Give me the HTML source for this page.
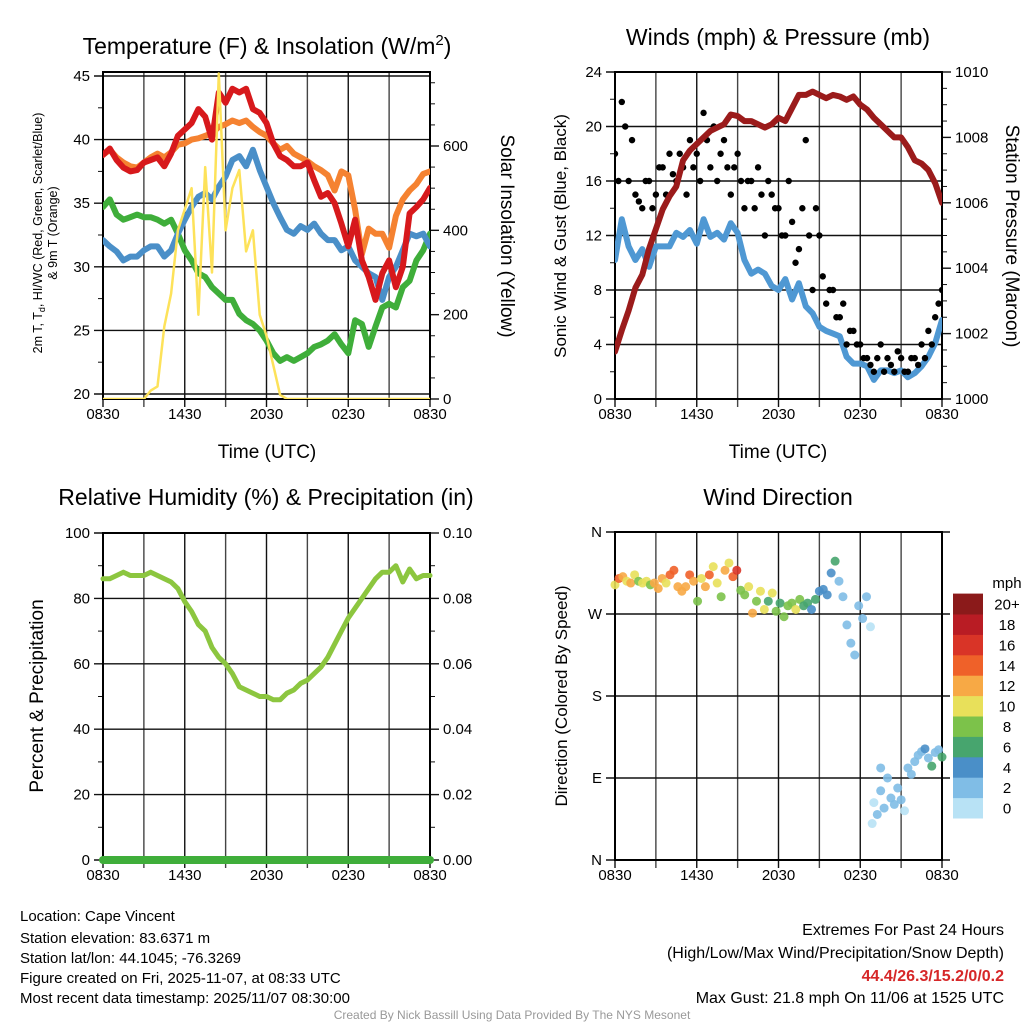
<!DOCTYPE html>
<html><head><meta charset="utf-8">
<style>
body{margin:0;background:#fff;}
svg{display:block;font-family:"Liberation Sans",Arial,sans-serif;}
</style></head>
<body>
<svg id="c" width="1024" height="1024" viewBox="0 0 1024 1024" xmlns="http://www.w3.org/2000/svg">
<rect width="1024" height="1024" fill="#fff"/>
<g id="g1"></g>
<g id="g2"></g>
<g id="g3"></g>
<g id="g4"></g>
<text x="267" y="54" font-size="23" text-anchor="middle">Temperature (F) &amp; Insolation (W/m<tspan dy="-9" font-size="15">2</tspan><tspan dy="9">)</tspan></text>
<text x="778" y="45" font-size="23" text-anchor="middle">Winds (mph) &amp; Pressure (mb)</text>
<text x="266" y="505" font-size="23" text-anchor="middle">Relative Humidity (%) &amp; Precipitation (in)</text>
<text x="778" y="505" font-size="23" text-anchor="middle">Wind Direction</text>
<text x="267" y="458" font-size="19" text-anchor="middle">Time (UTC)</text>
<text x="778" y="458" font-size="19" text-anchor="middle">Time (UTC)</text>
<text transform="translate(42,233) rotate(-90)" font-size="12.5" text-anchor="middle">2m T, T<tspan dy="3" font-size="9">d</tspan><tspan dy="-3">, HI/WC (Red, Green, Scarlet/Blue)</tspan></text>
<text transform="translate(57,233) rotate(-90)" font-size="12.5" text-anchor="middle">&amp; 9m T (Orange)</text>
<text transform="translate(501,236) rotate(90)" font-size="19" text-anchor="middle">Solar Insolation (Yellow)</text>
<text transform="translate(566,236) rotate(-90)" font-size="17" text-anchor="middle">Sonic Wind &amp; Gust (Blue, Black)</text>
<text transform="translate(1006,236) rotate(90)" font-size="19" text-anchor="middle">Station Pressure (Maroon)</text>
<text transform="translate(43,696) rotate(-90)" font-size="19" text-anchor="middle">Percent &amp; Precipitation</text>
<text transform="translate(567,696) rotate(-90)" font-size="17" text-anchor="middle">Direction (Colored By Speed)</text>
<g font-size="15">
<text x="20" y="921">Location: Cape Vincent</text>
<text x="20" y="943">Station elevation: 83.6371 m</text>
<text x="20" y="963">Station lat/lon: 44.1045; -76.3269</text>
<text x="20" y="983">Figure created on Fri, 2025-11-07, at 08:33 UTC</text>
<text x="20" y="1003">Most recent data timestamp: 2025/11/07 08:30:00</text>
</g>
<g font-size="16" text-anchor="end">
<text x="1004" y="935">Extremes For Past 24 Hours</text>
<text x="1004" y="958">(High/Low/Max Wind/Precipitation/Snow Depth)</text>
<text x="1004" y="981" fill="#d62728" font-weight="bold">44.4/26.3/15.2/0/0.2</text>
<text x="1004" y="1003">Max Gust: 21.8 mph On 11/06 at 1525 UTC</text>
</g>
<text x="512" y="1019" font-size="12" fill="#999" text-anchor="middle">Created By Nick Bassill Using Data Provided By The NYS Mesonet</text>
</svg>
<script>
const xLabels = ["0830","1430","2030","0230","0830"];
const temp2m = [38.8,39.3,38.4,37.8,37.5,37.6,38.2,38.4,38.6,37.9,38.9,40.3,40.8,41.3,42.4,41.8,40,43.7,42.9,44,43.7,44,42.4,42.1,41.3,39.7,38.7,38.4,37.9,37.9,38.2,36.8,35.5,35.8,35,33.4,31.6,33.7,30.5,29.2,27.4,29.5,30.5,28.4,30,34.2,34.7,35.3,36.2];
const temp9m = [38.8,39.2,38.6,38.2,37.9,37.8,38.2,38.6,38.9,38.6,39,39.6,39.7,40,40.1,40.3,40.5,41,41.2,41.5,41.3,41.5,41,40.6,40.3,39.7,39.2,39.5,38.9,38.6,38.3,37.9,37.6,37.2,36,37.5,37.2,34.5,31,33,32.6,32.6,31.5,34,35.3,36,36.5,37.3,37.5];
const windChill = [32.1,31.6,31.2,30.5,30.8,30.8,31.3,31.6,31.6,30.8,31.3,32.6,33.7,34.7,35.5,35.8,35.3,36.3,37.1,38.4,38.7,37.9,39.2,37.6,36.3,35,33.9,32.9,32.6,33.2,32.9,33.4,32.6,32.1,32.1,31.3,31.6,30.5,30,29.5,29.2,27.4,29.2,30,31.3,32.6,32.4,32.6,31.6];
const dewPoint = [34.7,35.3,34.1,33.7,33.9,34.1,33.9,33.9,33.7,33.4,33.7,32.6,31.3,30.5,29.5,29.2,28.4,27.9,27.4,27.4,26.3,25.8,25.5,25,24.2,23.2,22.6,22.9,22.6,22.9,23.2,23.7,23.9,24.2,24.7,23.9,23.2,25.8,25.5,23.7,25.3,26.8,27.1,26.8,28.4,28.9,30.5,31.3,32.6];
const insolation = [0,0,0,0,0,0,0,20,30,172,250,400,450,500,200,550,300,772,400,500,543,350,400,200,150,80,10,0,0,0,0,0,0,0,0,0,0,0,0,0,0,0,0,0,0,0,0,0,0];
const windSpeed = [10.2,13.2,11.2,10.2,11,9.7,11.2,11.2,11.2,12.2,11.9,12.4,11.4,13.2,11.9,12.2,11.7,12.9,12.2,10.2,9.2,9.5,9.2,8.3,8,8.8,7.3,8.5,6.8,6.3,5.3,5,4.8,4.6,3.1,2.6,2.6,2.4,1.4,2.1,2.1,1.9,2.1,1.6,1.9,2.4,3.1,4.1,5.8];
const gustA = [18,21.8,16,15,14,16,15,17,18,16,17,19,18,21,17,16,19,15,18,14,16,17,12,15,14,12,13,11,19,8,12,7,8,6,4,5,4,3,2,4,3,2,3,2,3,4,5,6,8];
const gustB = [16,20,19,14.5,16,14,17,15,16.5,18,15,17,16,19,20,18,17,17,16,16,14,15,16,14,12,16,10,14,12,14,9,8,6,7,5,4,3,2.5,3,2,2.5,3.5,2,3,2.5,3,4,7,7.5];
const pressure = [1001.45,1002.1,1002.7,1003.4,1003.8,1004.6,1005.2,1005.8,1006.2,1006.5,1007.3,1007.6,1007.8,1008,1008.2,1008.3,1008.4,1008.7,1008.65,1008.5,1008.5,1008.4,1008.3,1008.4,1008.6,1008.5,1008.9,1009.3,1009.3,1009.4,1009.3,1009.2,1009.3,1009.25,1009.15,1009.25,1009,1008.85,1008.6,1008.4,1008.2,1008,1008,1007.7,1007.3,1007.2,1007,1006.6,1006];
const humidity = [86,86,87,88,87,87,87,88,87,86,85,83,79,76,72,70,65,62,60,57,53,52,51,50,50,49,49,51,52,54,55,57,59,62,66,70,74,77,80,83,86,88,88,90,85,89,86,87,87];
const dirTime = [0,0.58,1.15,1.73,2.31,2.88,3.46,4.04,4.62,5.19,5.77,6.35,6.92,7.5,8.08,8.65,9.23,9.81,10.38,10.96,11.54,12.12,12.69,13.27,13.85,14.42,15,15.58,16.15,16.73,17.31,17.88,18.46,19.04,19.62,20.19,20.77,21.35,21.92,22.5,23.08,23.65,24.23,24.81,25.38,25.96,26.54,27.12,27.69,28.27,28.85,29.42,30,30.58,31.15,31.73,32.31,32.88,33.46,34.04,34.62,35.19,35.77,36.35,36.92,37.5,37.75,38,38.5,39,39,39.5,40,40.5,41,41.5,42,42.5,43,43.5,44,44.5,45,45.5,46,46.5,47,47.5,48];
const dirDeg = [302,309,311,306,304,313,306,304,306,302,304,298,309,304,313,318,300,295,300,313,306,284,309,300,313,322,304,289,318,326,311,318,296,291,300,271,284,295,275,284,293,273,282,267,279,282,275,286,279,282,275,286,295,297,291,315,328,306,289,258,238,225,279,265,289,256,40,63,50,76,101,57,90,68,61,79,66,54,101,94,108,115,119,122,112,103,118,121,113];
const dirSpeed = [10,14,12,11,12,10,8,10,10,8,12,12,13,10,14,15,12,12,12,15,12,8,10,12,14,10,11,8,12,10,14,16,8,8,10,12,8,10,10,6,10,8,6,8,8,8,10,8,6,6,4,6,4,4,5,4,6,2,2,2,2,2,2,2,2,1,0,1,2,2,2,2,2,2,2,2,2,1,2,2,2,2,2,4,2,6,3,3,6];

const NS="http://www.w3.org/2000/svg";
function mk(parent,tag,attrs){const e=document.createElementNS(NS,tag);for(const k in attrs)e.setAttribute(k,attrs[k]);parent.appendChild(e);return e;}
function xs(x0,x1){return h=>x0+(x1-x0)*h/24;}
function lin(v0,v1,y0,y1){return v=>y0+(v-v0)*(y1-y0)/(v1-v0);}

function frame(g,x0,x1,y0,y1,yTicks,yFn,yLabs,minorFn,minorTicks,rTicks,rFn,rLabs,rMinor){
  const X=xs(x0,x1);
  for(let h=0;h<=24;h+=3){
    const l=mk(g,'line',{x1:X(h),x2:X(h),y1:y0,y2:y1+8,stroke:h%6==0?'#111':'#444','stroke-width':1.4});
    
    
  }
  yTicks.forEach((v,i)=>{
    const y=yFn(v);
    const l=mk(g,'line',{x1:x0-9,x2:x1+(rTicks?0:8),y1:y,y2:y,stroke:'#111','stroke-width':1.4});
    
    
    const t=mk(g,'text',{x:x0-13,y:y+5,'font-size':15,'text-anchor':'end'});
    t.textContent=yLabs[i];
    
    
  });
  minorTicks.forEach(v=>{mk(g,'line',{x1:x0-5,x2:x0,y1:yFn(v),y2:yFn(v),stroke:'#111','stroke-width':1});});
  if(rTicks){
    rTicks.forEach((v,i)=>{
      const y=rFn(v);
      mk(g,'line',{x1:x1,x2:x1+9,y1:y,y2:y,stroke:'#111','stroke-width':1.4});
      const t=mk(g,'text',{x:x1+13,y:y+5,'font-size':15});
      t.textContent=rLabs[i];
      
      
    });
    rMinor.forEach(v=>{mk(g,'line',{x1:x1,x2:x1+5,y1:rFn(v),y2:rFn(v),stroke:'#111','stroke-width':1});});
  }
  const r=mk(g,'rect',{x:x0,y:y0,width:x1-x0,height:y1-y0,fill:'none',stroke:'#000','stroke-width':2});
  
  
  xLabels.forEach((s,i)=>{
    const t=mk(g,'text',{x:X(i*6),y:y1+20,'font-size':15,'text-anchor':'middle'});
    t.textContent=s;
    
    
  });
  return X;
}
function line(g,X,Y,arr,color,w,name){
  const pts=arr.map((v,i)=>X(i*0.5).toFixed(1)+','+Y(v).toFixed(1)).join(' ');
  const p=mk(g,'polyline',{points:pts,fill:'none',stroke:color,'stroke-width':w,'stroke-linejoin':'round','stroke-linecap':'round'});
  
  
  return p;
}

// Panel 1
const g1=document.getElementById('g1');
const Y1=lin(20,45,394,76), R1=lin(0,600,399,146);
const X1=frame(g1,103,430,72,399,[20,25,30,35,40,45],Y1,["20","25","30","35","40","45"],null,[22.5,27.5,32.5,37.5,42.5],[0,200,400,600],R1,["0","200","400","600"],[50,100,150,250,300,350,450,500,550,650,700,750]);
const cp1=mk(g1,'clipPath',{id:'cp1'});mk(cp1,'rect',{x:103,y:72,width:327,height:327});
const s1=mk(g1,'g',{'clip-path':'url(#cp1)'});
line(s1,X1,Y1,dewPoint,'#3fae3a',6,'dewpoint-line');
line(s1,X1,Y1,windChill,'#4a8fc8',6,'wind-chill-line');
line(s1,X1,Y1,temp9m,'#f58231',6,'temp-9m-line');
line(s1,X1,Y1,temp2m,'#d7191c',6,'temp-2m-line');
line(s1,X1,R1,insolation,'#fde25a',2.5,'insolation-line');

// Panel 2
const g2=document.getElementById('g2');
const Y2=lin(0,24,399,72), R2=lin(1000,1010,399,72);
const X2=frame(g2,615,942,72,399,[0,4,8,12,16,20,24],Y2,["0","4","8","12","16","20","24"],null,[2,6,10,14,18,22],[1000,1002,1004,1006,1008,1010],R2,["1000","1002","1004","1006","1008","1010"],[1000.5,1001,1001.5,1002.5,1003,1003.5,1004.5,1005,1005.5,1006.5,1007,1007.5,1008.5,1009,1009.5]);
const cp2=mk(g2,'clipPath',{id:'cp2'});mk(cp2,'rect',{x:615,y:72,width:327,height:327});
const s2=mk(g2,'g',{'clip-path':'url(#cp2)'});
line(s2,X2,Y2,windSpeed,'#4f98d3',6,'sonic-wind-line');
gustA.forEach((v,i)=>{
  const c=mk(s2,'circle',{cx:X2(i*0.5),cy:Y2(v),r:3.2,fill:'#000'});
  
  
});
gustB.forEach((v,i)=>{
  const c=mk(s2,'circle',{cx:X2(i*0.5+0.25),cy:Y2(v),r:3.2,fill:'#000'});
  
  
});
line(s2,X2,R2,pressure,'#9b1b1b',6,'pressure-line');

// Panel 3
const g3=document.getElementById('g3');
const Y3=lin(0,100,860,533), R3=lin(0,0.1,860,533);
const X3=frame(g3,103,430,533,860,[0,20,40,60,80,100],Y3,["0","20","40","60","80","100"],null,[10,30,50,70,90],[0,0.02,0.04,0.06,0.08,0.1],R3,["0.00","0.02","0.04","0.06","0.08","0.10"],[0.01,0.03,0.05,0.07,0.09]);
line(g3,X3,Y3,humidity,'#8cc63f',5,'humidity-line');
const precip=humidity.map(()=>0);
line(g3,X3,R3,precip,'#3fae3a',8,'precipitation-line');

// Panel 4
const g4=document.getElementById('g4');
const Y4=lin(0,360,860,532);
const X4=frame(g4,615,942,532,860,[0,90,180,270,360],Y4,["N","E","S","W","N"],null,[],null);
const spColors=['#b8e2f5','#80bde6','#4a8fc8','#47a56e','#7cc24a','#e8e05a','#f7a945','#ef6129','#d93427','#b91c24','#8b1a1a'];
const spLabels=["0","2","4","6","8","10","12","14","16","18","20+"];
dirDeg.forEach((d,i)=>{
  const bin=Math.min(10,Math.floor(dirSpeed[i]/2));
  const c=mk(g4,'circle',{cx:X4(dirTime[i]/2),cy:Y4(d),r:4.5,fill:spColors[bin],opacity:0.9});
  
  
});
const cb=mk(g4,'g',{});


spColors.forEach((col,i)=>{
  const y=818-(i+1)*20.4;
  mk(cb,'rect',{x:953,y:y,width:30,height:20.9,fill:col});
  const t=mk(cb,'text',{x:1007,y:y+16,'font-size':15,'text-anchor':'middle'});
  t.textContent=spLabels[i];
  
  
});
const mt=mk(cb,'text',{x:1007,y:588,'font-size':15,'text-anchor':'middle'});
mt.textContent='mph';


</script>
</body></html>
